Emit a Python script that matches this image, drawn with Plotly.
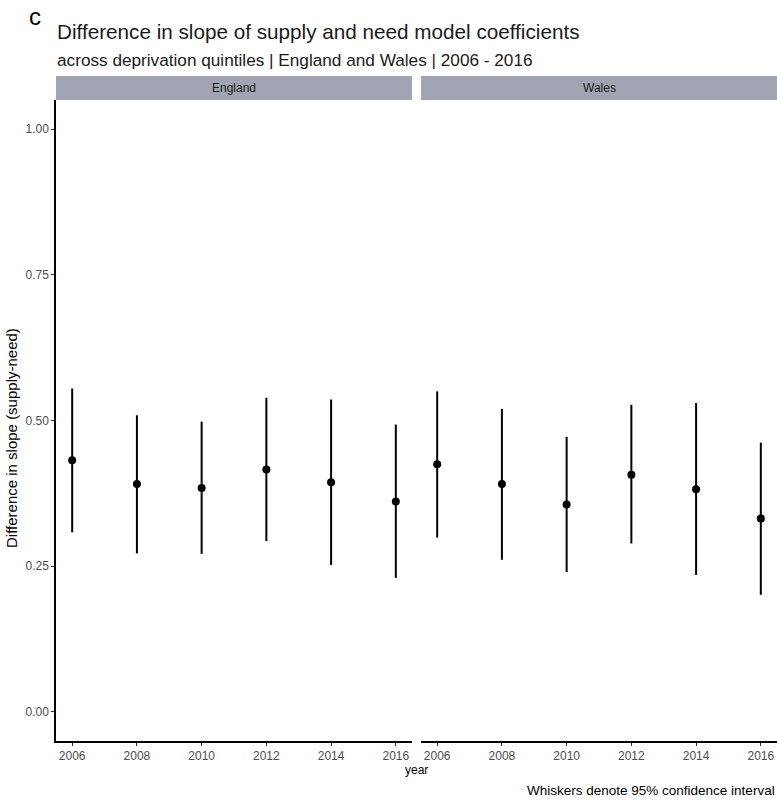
import plotly.graph_objects as go

years = [2006, 2008, 2010, 2012, 2014, 2016]

england_est = [0.432, 0.391, 0.384, 0.416, 0.394, 0.361]
england_lo = [0.308, 0.272, 0.271, 0.293, 0.252, 0.230]
england_hi = [0.555, 0.509, 0.498, 0.539, 0.536, 0.493]

wales_est = [0.425, 0.391, 0.356, 0.407, 0.382, 0.332]
wales_lo = [0.299, 0.261, 0.240, 0.289, 0.235, 0.201]
wales_hi = [0.550, 0.520, 0.472, 0.527, 0.530, 0.462]

y_ticks = [0.0, 0.25, 0.5, 0.75, 1.0]
y_tick_labels = ["0.00", "0.25", "0.50", "0.75", "1.00"]

FONT = "Liberation Sans, Arial, Helvetica, sans-serif"
W, H = 777, 800
ML, MR, MT, MB = 56, 0, 100, 59
PW = W - ML - MR
PH = H - MT - MB

fig = go.Figure()

for est, lo, hi, xa, ya in [
    (england_est, england_lo, england_hi, "x", "y"),
    (wales_est, wales_lo, wales_hi, "x2", "y2"),
]:
    fig.add_trace(go.Scatter(
        x=years, y=est, mode="markers", xaxis=xa, yaxis=ya,
        marker=dict(color="black", size=8),
        error_y=dict(
            type="data", symmetric=False,
            array=[h - e for h, e in zip(hi, est)],
            arrayminus=[e - l for e, l in zip(est, lo)],
            width=0, thickness=2, color="black",
        ),
        showlegend=False, hoverinfo="x+y",
    ))

split1 = 356 / PW
split2 = 365 / PW

xcommon = dict(
    range=[2005.5, 2016.5], tickvals=years, ticktext=[str(y) for y in years],
    showgrid=False, zeroline=False, showline=True, linecolor="black", linewidth=1.5,
    ticks="outside", ticklen=3, tickcolor="#333333", tickwidth=1,
    tickfont=dict(family=FONT, size=12, color="#4d4d4d"),
)
ycommon = dict(
    range=[-0.05, 1.05], tickvals=y_ticks, ticktext=y_tick_labels,
    showgrid=False, zeroline=False,
)

fig.update_layout(
    width=W, height=H,
    margin=dict(l=ML, r=MR, t=MT, b=MB),
    paper_bgcolor="white", plot_bgcolor="white",
    font=dict(family=FONT),
    xaxis=dict(domain=[0, split1], anchor="y", **xcommon),
    xaxis2=dict(domain=[split2, 1], anchor="y2", **xcommon),
    yaxis=dict(domain=[0, 1], anchor="x", showline=True, linecolor="black", linewidth=1.5,
               ticks="outside", ticklen=3, tickcolor="#333333", tickwidth=1,
               tickfont=dict(family=FONT, size=12, color="#4d4d4d"),
               **ycommon),
    yaxis2=dict(domain=[0, 1], anchor="x2", showline=False, showticklabels=False,
                ticks="", **ycommon),
)

strip_h = 24 / PH
shapes = []
annotations = []
for (x0, x1, label) in [(0, split1, "England"), (split2, 1, "Wales")]:
    shapes.append(dict(type="rect", xref="paper", yref="paper",
                       x0=x0, x1=x1, y0=1.0, y1=1.0 + strip_h,
                       fillcolor="#a1a5b3", line=dict(width=0), layer="below"))
    annotations.append(dict(text=label, xref="paper", yref="paper",
                            x=(x0 + x1) / 2, y=1.0 + strip_h / 2,
                            xanchor="center", yanchor="middle", showarrow=False,
                            font=dict(family=FONT, size=12, color="#1a1a1a")))

def py(pix):
    return 1.0 + (MT - pix) / PH

def px(pix):
    return (pix - ML) / PW

annotations += [
    dict(text="c", xref="paper", yref="paper", x=px(35), y=py(16),
         xanchor="center", yanchor="middle", showarrow=False,
         font=dict(family=FONT, size=24, color="black")),
    dict(text="Difference in slope of supply and need model coefficients",
         xref="paper", yref="paper", x=px(55), y=py(32),
         xanchor="left", yanchor="middle", showarrow=False,
         font=dict(family=FONT, size=20.7, color="#1a1a1a")),
    dict(text="across deprivation quintiles | England and Wales | 2006 - 2016",
         xref="paper", yref="paper", x=px(55), y=py(60),
         xanchor="left", yanchor="middle", showarrow=False,
         font=dict(family=FONT, size=17.2, color="#1a1a1a")),
    dict(text="Difference in slope (supply-need)", xref="paper", yref="paper",
         x=px(12), y=py(438), xanchor="center", yanchor="middle", textangle=-90,
         showarrow=False, font=dict(family=FONT, size=15, color="black")),
    dict(text="year", xref="paper", yref="paper", x=px(416), y=py(770),
         xanchor="center", yanchor="middle", showarrow=False,
         font=dict(family=FONT, size=12, color="black")),
    dict(text="Whiskers denote 95% confidence interval", xref="paper", yref="paper",
         x=px(777), y=py(790), xanchor="right", yanchor="middle", showarrow=False,
         font=dict(family=FONT, size=13.5, color="black")),
]

fig.update_layout(shapes=shapes, annotations=annotations)
fig.write_html(
    "out.html",
    config={"displayModeBar": False},
    post_script="document.body.style.margin='0';document.body.style.overflow='hidden';",
)
